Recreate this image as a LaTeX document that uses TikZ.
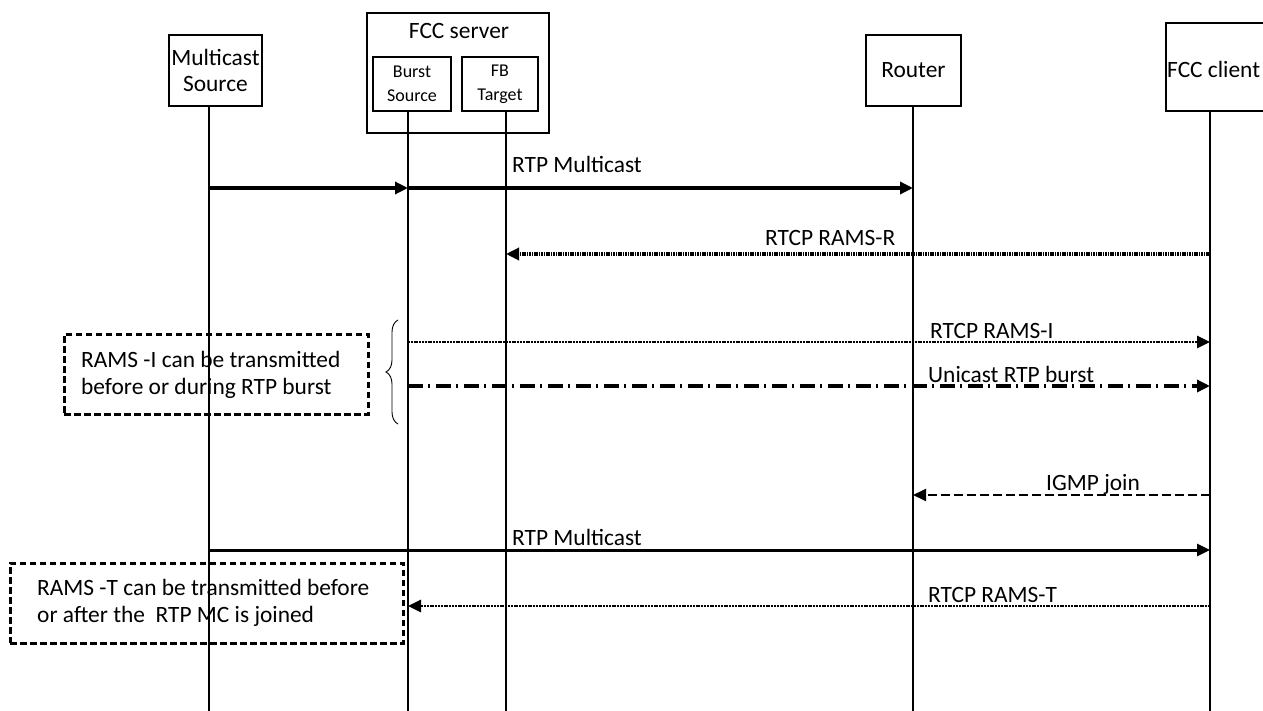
\documentclass[tikz,border=0pt]{standalone}
\usepackage{fontspec}
\setmainfont{Carlito}
\usetikzlibrary{arrows.meta,decorations.pathreplacing}
\begin{document}
\begin{tikzpicture}[x=1pt,y=-1pt,
  box/.style={draw,line width=1.1pt,inner sep=0pt},
  life/.style={line width=1.1pt},
  bigtxt/.style={font=\fontsize{23.4}{26}\selectfont},
  lbl/.style={anchor=base west,inner sep=0pt,bigtxt},
  smalltxt/.style={font=\fontsize{18}{24}\selectfont},
  tipped/.style={-{Triangle[length=13pt,width=12pt]}},
  notebox/.style={draw,line width=3pt,dash pattern=on 6.5pt off 3.5pt,inner sep=0pt},
  heavy/.style={tipped,line width=4.6pt},
  dotted1/.style={tipped,line width=3.3pt,dash pattern=on 1.6pt off 0.8pt},
  dotted2/.style={tipped,line width=2.7pt,dash pattern=on 2pt off 0.8pt},
  dashdot/.style={tipped,line width=4.2pt,dash pattern=on 15pt off 5pt on 2pt off 6pt},
  dashed1/.style={tipped,line width=2pt,dash pattern=on 9pt off 4pt},
  solid2/.style={tipped,line width=3pt}
]
\useasboundingbox (0,0) rectangle (1263,711);

% entity boxes
\node[box,minimum width=93pt,minimum height=71pt,align=center,bigtxt] (ms) at (215.5,70.5) {Multicast\\Source};
\node[box,minimum width=182pt,minimum height=120pt] (fcc) at (458,73) {};
\node[anchor=base,inner sep=0pt,bigtxt] (fcct) at (459,39) {FCC server};
\node[box,minimum width=78pt,minimum height=54pt,align=center,smalltxt] (bs) at (412,84) {Burst\\Source};
\node[box,minimum width=76pt,minimum height=54pt,align=center,smalltxt] (fb) at (500,84) {FB\\Target};
\node[box,minimum width=95pt,minimum height=71pt,bigtxt] (rt) at (913.5,70.5) {Router};
\node[box,minimum width=134pt,minimum height=88pt] (cl) at (1233,67) {};
\node[lbl] (clt) at (1167,78) {FCC client};

% lifelines
\coordinate (msE) at (209,711);
\coordinate (bsE) at (408,711);
\coordinate (fbE) at (506,711);
\coordinate (rtE) at (913,711);
\coordinate (clE) at (1210,711);
\draw[life] (msE |- ms.south) -- (msE);
\draw[life] (bsE |- bs.south) -- (bsE);
\draw[life] (fbE |- fb.south) -- (fbE);
\draw[life] (rtE |- rt.south) -- (rtE);
\draw[life] (clE |- cl.south) -- (clE);

% message rows
\coordinate (y1) at (0,188);
\coordinate (y2) at (0,254);
\coordinate (y3) at (0,342);
\coordinate (y4) at (0,386);
\coordinate (y5) at (0,495);
\coordinate (y6) at (0,550);
\coordinate (y7) at (0,606);

\draw[heavy] (msE |- y1) -- (bsE |- y1);
\draw[heavy] (bsE |- y1) -- (rtE |- y1);
\node[lbl] (l1) at (512,173) {RTP Multicast};

\draw[dotted1] (clE |- y2) -- (fbE |- y2);
\node[lbl] (l2) at (765,246) {RTCP RAMS-R};

\draw[dotted2] (bsE |- y3) -- (clE |- y3);
\node[lbl] (l3) at (930,338) {RTCP RAMS-I};

\draw[dashdot] (bsE |- y4) -- (clE |- y4);
\node[lbl] (l4) at (928,382) {Unicast RTP burst};

\draw[dashed1] (clE |- y5) -- (rtE |- y5);
\node[lbl] (l5) at (1046,490) {IGMP join};

\draw[solid2] (msE |- y6) -- (clE |- y6);
\node[lbl] (l6) at (512,545) {RTP Multicast};

\draw[dotted2] (clE |- y7) -- (bsE |- y7);
\node[lbl] (l7) at (928,602) {RTCP RAMS-T};

% brace
\coordinate (brb) at (398,424);
\coordinate (brt) at (398,320);
\draw[line width=0.9pt,decorate,decoration={brace,amplitude=12pt}] (brb) -- (brt);

% notes
\node[notebox,minimum width=304pt,minimum height=80pt] (n1) at (216,374) {};
\node[lbl] (n1a) at (81,367) {RAMS -I can be transmitted};
\node[lbl] (n1b) at (81,394) {before or during RTP burst};

\node[notebox,minimum width=393pt,minimum height=80pt] (n2) at (206.5,603) {};
\node[lbl] (n2a) at (37,595) {RAMS -T can be transmitted before};
\node[lbl] (n2b) at (37,622) {or after the\ \ RTP MC is joined};
\end{tikzpicture}
\end{document}
